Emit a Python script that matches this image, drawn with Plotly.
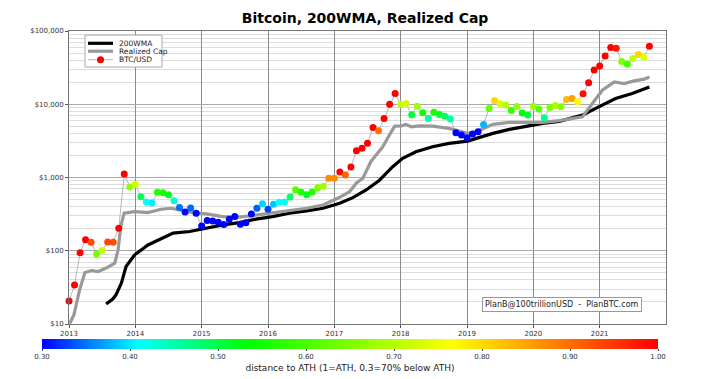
import plotly.graph_objects as go
import numpy as np

# ---- BTC/USD monthly (Jan 2013 .. Oct 2021) ----
btc_usd = [
    20.6, 34, 94, 141, 131, 90, 101, 132, 131, 203, 1117, 743,          # 2013
    808, 547, 463, 449, 629, 621, 583, 483, 388, 339, 384, 325,         # 2014
    218, 258, 255, 245, 228, 270, 293, 230, 242, 318, 381, 439,         # 2015
    369, 431, 459, 464, 542, 682, 629, 583, 634, 726, 759, 975,         # 2016
    975, 1188, 1081, 1390, 2317, 2500, 2925, 4830, 4342, 6410, 10030, 14020,  # 2017
    10030, 10250, 7170, 9420, 7640, 6410, 7800, 7260, 6880, 6270, 4075, 3790,  # 2018
    3480, 3915, 4210, 5310, 8770, 11270, 10250, 9730, 8240, 9340, 7570, 7110,  # 2019
    9420, 8580, 6540, 9040, 9630, 9230, 11610, 11990, 10790, 13870, 19590, 29440,  # 2020
    33370, 45630, 59380, 58100, 38290, 35190, 42060, 47660, 43820, 61920,  # 2021
]
btc_x = [2013 + i / 12 for i in range(len(btc_usd))]
ath_ratio = list(np.array(btc_usd) / np.maximum.accumulate(btc_usd))

# ---- Realized Cap (per coin) ----
rc_x = [2013.01, 2013.075, 2013.16, 2013.24, 2013.34, 2013.44, 2013.56, 2013.69, 2013.74,
        2013.78, 2013.83, 2013.99, 2014.19, 2014.39, 2014.54, 2014.67, 2014.87, 2015.07,
        2015.32, 2015.57, 2015.82, 2016.07, 2016.32, 2016.58, 2016.83, 2017.08, 2017.23,
        2017.33, 2017.43, 2017.55, 2017.63, 2017.73, 2017.83, 2017.91, 2018.01, 2018.08,
        2018.16, 2018.28, 2018.48, 2018.73, 2018.88, 2019.01, 2019.14, 2019.39, 2019.64,
        2019.89, 2020.14, 2020.39, 2020.74, 2020.89, 2021.04, 2021.22, 2021.37, 2021.52,
        2021.67, 2021.75]
rc_val = [10.1, 13.4, 29.3, 50.5, 53.7, 52.1, 58.0, 67.8, 103,
          214, 325, 342, 331, 369, 380, 360, 331, 318,
          293, 287, 308, 325, 353, 380, 422, 537, 641,
          834, 975, 1642, 2026, 2630, 3795, 5030, 5080, 5310,
          4920, 5080, 5030, 4680, 4300, 4000, 4210, 5310, 5650,
          5650, 5650, 5990, 6730, 10250, 15560, 20180, 19180, 20830,
          21980, 23620]

# ---- 200 week moving average ----
wma_x = [2013.56, 2013.66, 2013.71, 2013.79, 2013.86, 2013.99, 2014.19, 2014.39, 2014.57,
         2014.82, 2015.07, 2015.32, 2015.57, 2015.82, 2016.07, 2016.32, 2016.58, 2016.83,
         2017.08, 2017.28, 2017.48, 2017.68, 2017.88, 2018.03, 2018.23, 2018.48, 2018.73,
         2019.01, 2019.14, 2019.39, 2019.64, 2019.89, 2020.14, 2020.39, 2020.74, 2020.94,
         2021.24, 2021.49, 2021.75]
wma_val = [18.7, 21.9, 25.1, 36.2, 61.0, 88, 120, 148, 174,
           183, 203, 225, 242, 270, 293, 325, 350, 380,
           445, 531, 676, 918, 1402, 1827, 2249, 2630, 2925,
           3143, 3420, 4000, 4540, 5030, 5470, 5850, 7100, 8770,
           12000, 14030, 17260]

year_ticks = list(range(2013, 2022))
price_ticks = [10, 100, 1000, 10000, 100000]
price_labels = ["$10", "$100", "$1,000", "$10,000", "$100,000"]
cbar_ticks = [0.3, 0.4, 0.5, 0.6, 0.7, 0.8, 0.9, 1.0]
legend_names = ["200WMA", "Realized Cap", "BTC/USD"]

colorscale = [
    [0.0, "rgb(0,0,255)"],
    [0.157, "rgb(0,255,255)"],
    [0.335, "rgb(0,255,0)"],
    [0.666, "rgb(255,255,0)"],
    [1.0, "rgb(255,0,0)"],
]

FONT = "DejaVu Sans"
WMA_COLOR, RC_COLOR, BTC_LINE = "black", "#999999", "#888888"

fig = go.Figure()
fig.add_trace(go.Scatter(
    x=wma_x, y=wma_val, mode="lines", name=legend_names[0],
    line=dict(color=WMA_COLOR, width=3.2), hoverinfo="skip",
))
fig.add_trace(go.Scatter(
    x=rc_x, y=rc_val, mode="lines", name=legend_names[1],
    line=dict(color=RC_COLOR, width=3.2), hoverinfo="skip",
))
fig.add_trace(go.Scatter(
    x=btc_x, y=btc_usd, mode="lines+markers", name=legend_names[2],
    line=dict(color=BTC_LINE, width=0.6),
    cliponaxis=False,
    marker=dict(
        size=7, color=ath_ratio, colorscale=colorscale, cmin=0.3, cmax=1.0,
        line=dict(width=0),
        showscale=True,
        colorbar=dict(
            orientation="h", thickness=10, thicknessmode="pixels",
            len=1.032, lenmode="fraction",
            x=0.4707, xanchor="center", y=-0.052, yanchor="top",
            xpad=0, ypad=0, outlinewidth=0,
            tickvals=cbar_ticks, ticktext=[f"{v:.2f}" for v in cbar_ticks],
            ticks="outside", ticklen=2, tickfont=dict(size=7, family=FONT, color="#333"),
            title=dict(text="distance to ATH (1=ATH, 0.3=70% below ATH)", side="bottom",
                       font=dict(size=9, family=FONT, color="#222")),
        ),
    ),
))

# ---- manual compact legend (paper coordinates) ----
shapes = [
    dict(type="rect", xref="paper", yref="paper", x0=0.0268, x1=0.1558, y0=0.877, y1=0.986,
         line=dict(color="#aaaaaa", width=1), fillcolor="white", layer="above"),
    dict(type="line", xref="paper", yref="paper", x0=0.0318, x1=0.0737, y0=0.958, y1=0.958,
         line=dict(color=WMA_COLOR, width=3.2), layer="above"),
    dict(type="line", xref="paper", yref="paper", x0=0.0318, x1=0.0737, y0=0.931, y1=0.931,
         line=dict(color=RC_COLOR, width=3.2), layer="above"),
    dict(type="line", xref="paper", yref="paper", x0=0.0318, x1=0.0737, y0=0.902, y1=0.902,
         line=dict(color=BTC_LINE, width=0.6), layer="above"),
    dict(type="circle", xref="paper", yref="paper", x0=0.0528 - 0.0059, x1=0.0528 + 0.0059,
         y0=0.902 - 0.012, y1=0.902 + 0.012, line=dict(width=0), fillcolor="red", layer="above"),
]
annotations = [
    dict(text=name, xref="paper", yref="paper", x=0.0799, y=yy, xanchor="left", yanchor="middle",
         showarrow=False, font=dict(size=7.5, family=FONT, color="#222"))
    for name, yy in zip(legend_names, [0.958, 0.931, 0.902])
]
annotations.append(dict(
    text="PlanB@100trillionUSD\u00a0\u00a0-\u00a0\u00a0PlanBTC.com",
    xref="paper", yref="paper", x=0.826, y=0.065, xanchor="center", yanchor="middle",
    showarrow=False, font=dict(size=8, family=FONT, color="#222"),
    bgcolor="white", bordercolor="#999999", borderwidth=1, borderpad=2,
))

# the page adds an 8px body margin, so the figure is offset by (8, 8)
fig.update_layout(
    width=720, height=379,
    margin=dict(l=61, r=62, t=23, b=63, autoexpand=False),
    paper_bgcolor="white", plot_bgcolor="white",
    font=dict(family=FONT, color="#222"),
    title=dict(text="<b>Bitcoin, 200WMA, Realized Cap</b>", x=0.496, xanchor="center",
               y=0.986, yanchor="top", font=dict(size=14, family=FONT, color="black")),
    showlegend=False,
    shapes=shapes,
    annotations=annotations,
)
fig.update_xaxes(
    range=[2013, 2022], tickvals=year_ticks, ticktext=[str(y) for y in year_ticks],
    showgrid=True, gridcolor="#8a8a8a", gridwidth=1,
    showline=True, linecolor="#777777", mirror=True, linewidth=1,
    ticks="outside", ticklen=3, tickcolor="#555",
    tickfont=dict(size=7, family=FONT, color="#333"), zeroline=False,
)
fig.update_yaxes(
    type="log", range=[1, 5], tickvals=price_ticks, ticktext=price_labels,
    showgrid=True, gridcolor="#aaaaaa", gridwidth=1.2,
    minor=dict(dtick="D1", showgrid=True, gridcolor="#dddddd", gridwidth=1, ticks=""),
    showline=True, linecolor="#777777", mirror=True, linewidth=1,
    ticks="outside", ticklen=3, tickcolor="#555",
    tickfont=dict(size=7, family=FONT, color="#333"), zeroline=False,
)

fig.write_html("out.html")
